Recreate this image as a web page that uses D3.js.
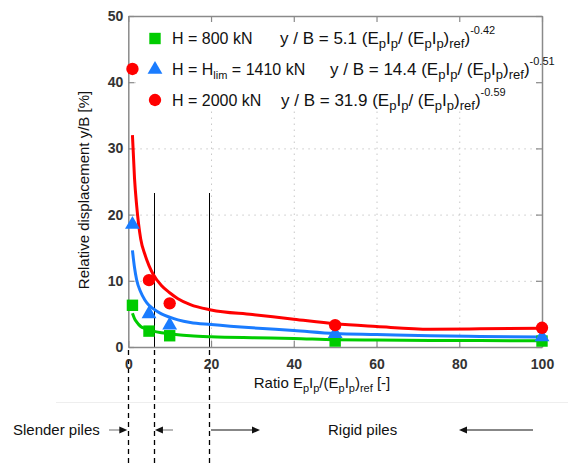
<!DOCTYPE html>
<html><head><meta charset="utf-8">
<script src="https://cdn.jsdelivr.net/npm/d3@7/dist/d3.min.js"></script>
<style>
html,body{margin:0;padding:0;background:#fff;}
svg{display:block;font-family:"Liberation Sans",Arial,sans-serif;}
</style></head>
<body><svg id="c" width="568" height="463"></svg>
<script>
// ---- data ----
const ratioPts = [1, 5, 10, 50, 100];
const disp800 = [6.3, 2.4, 1.7, 0.9, 0.9];
const disp1410 = [18.5, 5.0, 3.3, 2.0, 1.5];
const disp2000 = [42, 10.1, 6.6, 3.3, 2.9];

const curveRatio = [1, 1.5, 2, 3, 4, 5, 6, 8, 10, 12, 15, 20, 30, 40, 50, 60, 73, 85, 100];
const curve800  = [5.1, 4.3, 3.8, 3.1, 2.8, 2.6, 2.4, 2.15, 2.0, 1.85, 1.7, 1.55, 1.4, 1.3, 1.1, 1.05, 1.0, 0.97, 0.95];
const curve1410 = [14.6, 12.0, 10.2, 8.3, 7.1, 6.3, 5.8, 5.0, 4.5, 4.1, 3.7, 3.4, 2.9, 2.5, 2.05, 1.9, 1.7, 1.6, 1.5];
const curve2000 = [32, 25.5, 21.5, 16.3, 14.0, 12.3, 11.0, 9.3, 8.2, 7.3, 6.4, 5.6, 4.9, 4.2, 3.5, 3.1, 2.7, 2.75, 2.85];

const xTicks = [0, 20, 40, 60, 80, 100];
const yTicks = [0, 10, 20, 30, 40, 50];
const xGrid = [20, 40, 60, 80];
const yGrid = [10, 20, 30, 40];
const boundaries = [0, 6.2, 19.5];

const legendLabels = ["H = 800 kN", "H = H|lim| = 1410 kN", "H = 2000 kN"];
const legendCoef = ["5.1", "14.4", "31.9"];
const legendExp = ["-0.42", "-0.51", "-0.59"];
const zoneLabels = ["Slender piles", "Rigid piles"];

// ---- drawing ----
const svg = d3.select("#c");
const x = d3.scaleLinear().domain([0, 100]).range([128.3, 542]);
const y = d3.scaleLinear().domain([0, 50]).range([347, 16]);
const colors = ["#00cc00", "#1a7cff", "#ff0000"];
const frame = "#8a8a8a";
const crisp = v => Math.round(v) + 0.5;

// faint figure edge
svg.append("line").attr("x1", 56).attr("x2", 568).attr("y1", 402.5).attr("y2", 402.5)
  .attr("stroke", "#eeeeee").attr("stroke-width", 1);

// grid
const g = svg.append("g");
g.append("g").attr("transform", `translate(0,${y(0)})`)
  .call(d3.axisBottom(x).tickValues(xGrid).tickSize(-(y(0) - y(50))).tickFormat(""))
  .call(s => { s.select(".domain").remove(); s.selectAll("line").attr("stroke", "#c8c8c8").attr("stroke-dasharray", "1.5,4.5"); });
g.append("g").attr("transform", `translate(${x(0)},0)`)
  .call(d3.axisLeft(y).tickValues(yGrid).tickSize(-(x(100) - x(0))).tickFormat(""))
  .call(s => { s.select(".domain").remove(); s.selectAll("line").attr("stroke", "#c8c8c8").attr("stroke-dasharray", "1.5,4.5"); });

// legend background
svg.append("rect").attr("x", 137).attr("y", 20).attr("width", 400).attr("height", 91).attr("fill", "#fff");

// boundary lines in plot
svg.selectAll(".bline").data(boundaries.slice(1)).enter().append("line")
  .attr("x1", d => crisp(x(d))).attr("x2", d => crisp(x(d))).attr("y1", 193).attr("y2", y(0))
  .attr("stroke", "#000").attr("stroke-width", 1);
// dashed below
svg.selectAll(".dline").data(boundaries).enter().append("line")
  .attr("x1", d => crisp(x(d))).attr("x2", d => crisp(x(d))).attr("y1", 350).attr("y2", 463)
  .attr("stroke", "#000").attr("stroke-width", 1.3).attr("stroke-dasharray", "5,4");

// axes frame + ticks
const tickStyle = s => { s.selectAll("line").attr("stroke", frame).attr("stroke-width", 1.2); s.select(".domain").attr("stroke", frame).attr("stroke-width", 1.5); };
svg.append("g").attr("transform", `translate(0,${y(0)})`)
  .call(d3.axisBottom(x).tickValues(xTicks).tickSize(-6).tickSizeOuter(0).tickPadding(12))
  .call(tickStyle)
  .call(s => s.selectAll("text").attr("font-size", 14).attr("font-weight", "bold").attr("fill", "#333").attr("font-family", "Liberation Sans, Arial"));
svg.append("g").attr("transform", `translate(0,${y(50)})`)
  .call(d3.axisTop(x).tickValues(xTicks).tickSize(-6).tickSizeOuter(0).tickFormat(""))
  .call(tickStyle);
svg.append("g").attr("transform", `translate(${x(0)},0)`)
  .call(d3.axisLeft(y).tickValues(yTicks).tickSize(-6).tickSizeOuter(0).tickPadding(5))
  .call(tickStyle)
  .call(s => s.selectAll("text").attr("font-size", 14).attr("font-weight", "bold").attr("fill", "#333").attr("font-family", "Liberation Sans, Arial"));
svg.append("g").attr("transform", `translate(${x(100)},0)`)
  .call(d3.axisRight(y).tickValues(yTicks).tickSize(-6).tickSizeOuter(0).tickFormat(""))
  .call(tickStyle);

// curves
const line = d3.line().x(d => x(d[0])).y(d => y(d[1])).curve(d3.curveMonotoneX);
[curve800, curve1410, curve2000].forEach((c, i) => {
  svg.append("path").datum(curveRatio.map((r, j) => [r, c[j]]))
    .attr("d", line).attr("fill", "none").attr("stroke", colors[i]).attr("stroke-width", 3)
    .attr("stroke-linejoin", "round");
});

// markers
const sq = d3.symbol().type(d3.symbolSquare).size(130);
const tri = d3.symbol().type(d3.symbolTriangle).size(95);
const cir = d3.symbol().type(d3.symbolCircle).size(120);
const syms = [sq, tri, cir];
[disp800, disp1410, disp2000].forEach((vals, i) => {
  svg.append("g").selectAll("path").data(ratioPts.map((r, j) => [r, vals[j]])).enter().append("path")
    .attr("d", syms[i]).attr("transform", d => `translate(${x(d[0])},${y(d[1])})`)
    .attr("fill", colors[i]);
});

// rich text helper
function rich(t, parts, subSize, supSize) {
  subSize = subSize || 11; supSize = supSize || 11;
  parts.forEach(p => {
    const ts = t.append("tspan").text(p[0]);
    if (p[1] === "sub") ts.attr("font-size", subSize).attr("dy", 4);
    else if (p[1] === "sup") ts.attr("font-size", supSize).attr("dy", -10);
    else if (p[1] === "subend") ts.attr("dy", -4);
    else if (p[1] === "supend") ts.attr("dy", 10);
  });
}
function labelParts(lbl) {
  const seg = lbl.split("|");
  const out = [];
  seg.forEach((s, k) => {
    if (k % 2 === 1) out.push([s, "sub"]);
    else out.push([s, k > 0 ? "subend" : "n"]);
  });
  return out;
}

// legend
const rowsY = [38.5, 69.5, 100];
const formulaX = [280, 330, 281];
legendLabels.forEach((lbl, i) => {
  svg.append("path").attr("d", syms[i]).attr("transform", `translate(155,${rowsY[i]})`).attr("fill", colors[i]);
  const t = svg.append("text").attr("x", 172).attr("y", rowsY[i] + 5.5).attr("font-size", 16).attr("fill", "#111");
  rich(t, labelParts(lbl), 11, 11);
  const f = svg.append("text").attr("x", formulaX[i]).attr("y", rowsY[i] + 5.5).attr("font-size", 17).attr("fill", "#111");
  rich(f, [["y / B = " + legendCoef[i] + " (E", "n"], ["p", "sub"], ["I", "subend"], ["p", "sub"], ["/ (E", "subend"], ["p", "sub"], ["I", "subend"], ["p", "sub"], [")", "subend"], ["ref", "sub"], [")", "subend"], [legendExp[i], "sup"]], 13, 11);
});

// axis titles
const xt = svg.append("text").attr("x", 322).attr("y", 388).attr("text-anchor", "middle").attr("font-size", 15).attr("fill", "#111");
rich(xt, [["Ratio E", "n"], ["p", "sub"], ["I", "subend"], ["p", "sub"], ["/(E", "subend"], ["p", "sub"], ["I", "subend"], ["p", "sub"], [")", "subend"], ["ref", "sub"], [" [-]", "subend"]]);
svg.append("text").attr("transform", "translate(89,190) rotate(-90)").attr("text-anchor", "middle")
  .attr("font-size", 15).attr("fill", "#111").text("Relative displacement y/B [%]");

// zone annotations
svg.append("text").attr("x", 13).attr("y", 435).attr("font-size", 15).attr("fill", "#111").text(zoneLabels[0]);
svg.append("text").attr("x", 328).attr("y", 435).attr("font-size", 15).attr("fill", "#111").text(zoneLabels[1]);
function arrow(x1, x2, yy, lineColor) {
  const dir = Math.sign(x2 - x1);
  svg.append("line").attr("x1", x1).attr("x2", x2 - dir * 7).attr("y1", yy).attr("y2", yy).attr("stroke", lineColor).attr("stroke-width", 1.2);
  svg.append("path").attr("d", `M${x2},${yy} L${x2 - dir * 8},${yy - 3.5} L${x2 - dir * 8},${yy + 3.5} Z`).attr("fill", "#111");
}
arrow(109, x(0) - 1, 430, "#888");
arrow(173, x(6.2) + 1, 430, "#888");
arrow(211, 260, 430, "#111");
arrow(533, 459, 430, "#111");
</script></body></html>
